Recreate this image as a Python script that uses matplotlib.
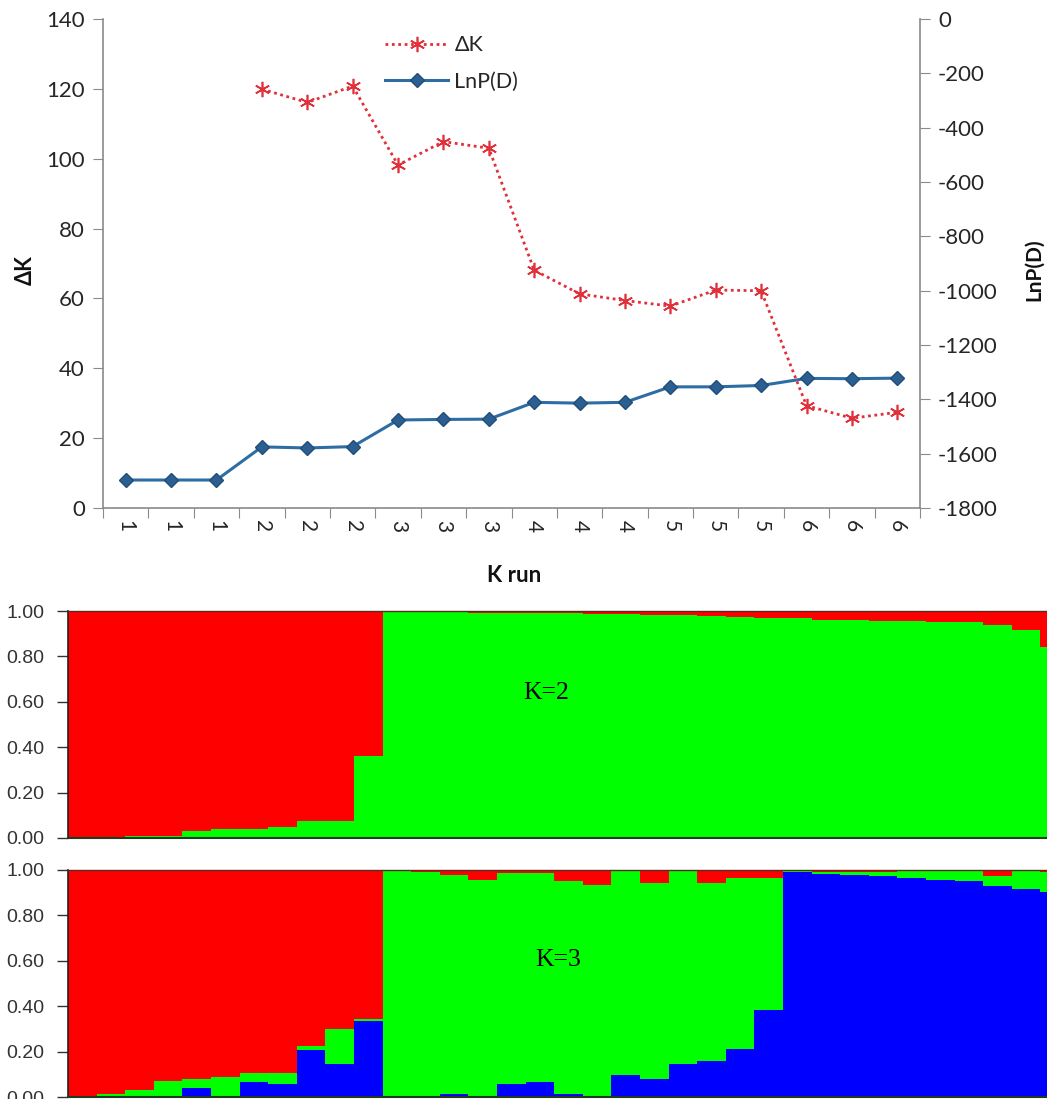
import numpy as np
import matplotlib
matplotlib.use("Agg")
import matplotlib.pyplot as plt
from matplotlib.ticker import FixedLocator, NullFormatter

plt.rcParams["axes.unicode_minus"] = False

# ---------------- data ----------------
k_labels = ["1", "1", "1", "2", "2", "2", "3", "3", "3",
            "4", "4", "4", "5", "5", "5", "6", "6", "6"]
delta_k = [np.nan, np.nan, np.nan, 119.9, 116.1, 120.8, 98.2, 104.9, 103.0,
           68.1, 61.3, 59.4, 57.8, 62.4, 62.2, 29.3, 25.7, 27.4]
lnp_d = [-1697, -1697, -1697, -1575, -1579, -1574, -1476, -1474, -1473,
         -1411, -1414, -1411, -1354, -1354, -1349, -1323, -1324, -1322]

# K=2 membership (green part at bottom, red on top)
k2_green = [0.000, 0.002, 0.010, 0.010, 0.030, 0.040, 0.040, 0.050, 0.073, 0.073, 0.360,
            0.998, 0.997, 0.996, 0.992, 0.990, 0.990, 0.990, 0.988, 0.985, 0.982,
            0.982, 0.980, 0.975, 0.970, 0.968, 0.962, 0.960, 0.958, 0.955, 0.953,
            0.950, 0.940, 0.915, 0.840]
# K=3 membership (blue bottom, green middle, red top)
k3_blue = [0.000, 0.005, 0.000, 0.005, 0.040, 0.005, 0.065, 0.058, 0.205, 0.146, 0.335,
           0.000, 0.000, 0.015, 0.000, 0.058, 0.066, 0.015, 0.005, 0.095, 0.080,
           0.146, 0.160, 0.210, 0.384,
           0.990, 0.983, 0.978, 0.974, 0.964, 0.956, 0.950, 0.930, 0.915, 0.905]
k3_green = [0.005, 0.010, 0.030, 0.065, 0.038, 0.085, 0.042, 0.049, 0.021, 0.154, 0.008,
            0.997, 0.990, 0.965, 0.956, 0.927, 0.922, 0.935, 0.929, 0.905, 0.862,
            0.854, 0.782, 0.754, 0.580,
            0.005, 0.008, 0.012, 0.016, 0.031, 0.040, 0.046, 0.044, 0.080, 0.085]
k3_red = list(1 - np.array(k3_blue) - np.array(k3_green))
k2_red = list(1 - np.array(k2_green))

# ---------------- figure ----------------
W, H = 1047, 1099
fig = plt.figure(figsize=(W / 100, H / 100), dpi=100)
fam = ["Lato", "DejaVu Sans"]
txtcol = "#262626"
axcol = "#8a8a8a"

# ---- top chart ----
ax = fig.add_axes([103 / W, 1 - 508 / H, (920 - 103) / W, (508 - 19) / H])
ax2 = ax.twinx()
n = len(k_labels)
xc = np.arange(n) + 0.5

l2, = ax2.plot(xc, lnp_d, color="#2E6DA4", lw=2.2, marker="D", ms=7,
               mfc="#2B5F91", mec="#1F4E79", label="LnP(D)", zorder=3)
l1, = ax.plot(xc, delta_k, color="#E0303A", lw=2, ls=(0, (1, 1.3)),
              marker=(6, 2, 0), ms=11, mew=1.2, mec="#E0303A",
              label="\u0394K", zorder=4)
ax.set_zorder(ax2.get_zorder() + 1)
ax.patch.set_visible(False)

ax.set_xlim(0, n)
ax.set_ylim(0, 140)
ax.set_yticks(np.arange(0, 141, 20))
ax2.set_ylim(-1800, 0)
ax2.set_yticks(np.arange(-1800, 1, 200))

ax.xaxis.set_major_locator(FixedLocator(np.arange(0, n + 1)))
ax.xaxis.set_major_formatter(NullFormatter())
ax.xaxis.set_minor_locator(FixedLocator(xc))
ax.set_xticklabels(k_labels, minor=True, rotation=-90, fontsize=15,
                   family=fam, color=txtcol)
ax.tick_params(axis="x", which="major", length=7, color=axcol, direction="out")
ax.tick_params(axis="x", which="minor", length=0, pad=9)
ax.tick_params(axis="y", length=7, color=axcol, labelsize=16,
               labelcolor=txtcol, pad=6)
ax2.tick_params(axis="y", length=7, color=axcol, labelsize=16,
                labelcolor=txtcol, pad=6)
for a in (ax.get_yticklabels() + ax2.get_yticklabels()):
    a.set_family(fam)

for a in (ax, ax2):
    a.spines["top"].set_visible(False)
    for s in ("left", "right", "bottom"):
        a.spines[s].set_color(axcol)
        a.spines[s].set_linewidth(1.2)
ax.spines["right"].set_visible(False)
ax2.spines["left"].set_visible(False)
ax2.spines["bottom"].set_visible(False)

leg = fig.legend(handles=[l1, l2], loc="upper left",
                 bbox_to_anchor=(366 / W, 1 - 16 / H), frameon=False,
                 prop={"family": fam, "size": 15.5}, handlelength=2.9,
                 labelspacing=0.75, handletextpad=0.3, labelcolor=txtcol)

fig.text(25 / W, 1 - 270 / H, "\u0394K", rotation=90, ha="center", va="center",
         fontsize=15.5, fontweight="bold", family=fam, color="#111111")
fig.text(1034 / W, 1 - 270 / H, "LnP(D)", rotation=90, ha="center", va="center",
         fontsize=15, fontweight="bold", family=fam, color="#111111")
fig.text(514 / W, 1 - 576 / H, "K run", ha="center", va="center",
         fontsize=16, fontweight="bold", family=fam, color="#111111")

# ---- structure plots ----
RED, GREEN, BLUE = "#FF0000", "#00FF00", "#0000FF"
nind = len(k2_green)
indw = 28.6
xi = np.arange(nind)


def style_struct(a):
    a.set_xlim(-0.5, nind - 0.5)
    a.set_ylim(0, 1)
    a.set_yticks(np.arange(0, 1.01, 0.2))
    a.set_yticklabels(["%.2f" % v for v in np.arange(0, 1.01, 0.2)])
    a.set_xticks([])
    a.tick_params(axis="y", length=8, width=1, color="#333333", labelsize=14,
                  labelcolor="#333333", pad=9)
    for t in a.get_yticklabels():
        t.set_family(["Liberation Sans", "DejaVu Sans"])
    a.spines["right"].set_visible(False)
    a.spines["top"].set_color("#5a2a20")
    a.spines["top"].set_linewidth(1.0)
    a.spines["left"].set_color("#222222")
    a.spines["bottom"].set_color("#1f3a1f")
    a.spines["left"].set_linewidth(1.2)
    a.spines["bottom"].set_linewidth(1.5)


axk2 = fig.add_axes([68 / W, 1 - 838 / H, nind * indw / W, (838 - 611) / H])
axk2.bar(xi, k2_green, width=1.0, color=GREEN, linewidth=0)
axk2.bar(xi, k2_red, width=1.0, bottom=k2_green, color=RED, linewidth=0)
style_struct(axk2)
axk2.text(523 / W, 1 - 693 / H, "K=2", transform=fig.transFigure,
          ha="left", va="center", fontsize=18.5,
          family=["Liberation Serif", "DejaVu Serif"], color="black")

axk3 = fig.add_axes([68 / W, 1 - 1097 / H, nind * indw / W, (1097 - 870) / H])
b3 = np.array(k3_blue)
g3 = np.array(k3_green)
axk3.bar(xi, k3_blue, width=1.0, color=BLUE, linewidth=0)
axk3.bar(xi, k3_green, width=1.0, bottom=b3, color=GREEN, linewidth=0)
axk3.bar(xi, k3_red, width=1.0, bottom=b3 + g3, color=RED, linewidth=0)
style_struct(axk3)
axk3.text(535 / W, 1 - 960 / H, "K=3", transform=fig.transFigure,
          ha="left", va="center", fontsize=18.5,
          family=["Liberation Serif", "DejaVu Serif"], color="black")

fig.savefig("out.png", dpi=100)
